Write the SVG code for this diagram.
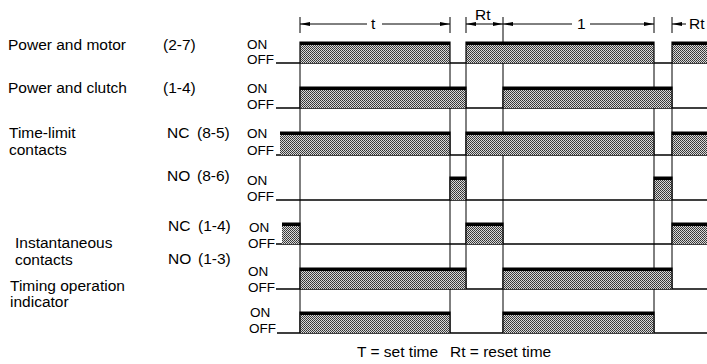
<svg xmlns="http://www.w3.org/2000/svg" width="707" height="364" viewBox="0 0 707 364">
<style>
.lbl{font-family:"Liberation Sans",Arial,Helvetica,sans-serif;font-size:15.5px;fill:#000}
.io{font-family:"Liberation Sans",Arial,Helvetica,sans-serif;font-size:13.5px;fill:#000}
.hatch{fill:url(#dots);stroke:none}
.sig{fill:none;stroke:#000;stroke-width:1.2}
.top{fill:none;stroke:#000;stroke-width:3}
.base{stroke:#000;stroke-width:1.5;fill:none}
.guide{stroke:#000;stroke-width:1;fill:none}
.dimA{stroke:#000;stroke-width:1;fill:none;marker-end:url(#ah)}
.dimB{stroke:#000;stroke-width:1;fill:none;marker-start:url(#ah);marker-end:url(#ah)}
.dimS{stroke:#000;stroke-width:1;fill:none;marker-start:url(#ah)}
</style>
<defs>
<pattern id="dots" width="2" height="2" patternUnits="userSpaceOnUse">
<rect width="2" height="2" fill="#d8d8d8"/>
<rect width="1" height="1" fill="#333"/>
<rect x="1" y="1" width="1" height="1" fill="#444"/>
</pattern>
<marker id="ah" viewBox="0 0 10 4" refX="10" refY="2" markerWidth="10" markerHeight="4" markerUnits="userSpaceOnUse" orient="auto-start-reverse">
<path d="M0,0 L10,2 L0,4 z" fill="#000"/>
</marker>
</defs>
<rect width="707" height="364" fill="#fff"/>

<g id="connectors">
<path class="guide" d="M300 63V333 M450 63V333 M466 63V289 M503 63V333 M654 63V333 M672 63V289"/>
<path class="guide" d="M300 17V33 M450 17V33 M466 17V33 M503 17V42 M654 17V33 M672 17V33"/>
<path class="base" d="M276 63H707 M276 108H707 M276 155H707 M276 200H707 M276 244H707 M276 289H707 M277 333H707"/>
</g>

<g id="dimensions">
<path class="dimS" d="M300 24H367"/>
<path class="dimA" d="M382 24H450"/>
<text class="lbl" x="371" y="29">t</text>
<path class="dimB" d="M466 24H503"/>
<text class="lbl" x="475" y="20">Rt</text>
<path class="dimS" d="M503 24H572"/>
<path class="dimA" d="M590 24H654"/>
<text class="lbl" x="577" y="29">1</text>
<path class="dimS" d="M672 24H686"/>
<text class="lbl" x="689" y="29">Rt</text>
</g>

<g id="row-power-motor">
<text class="lbl" x="8" y="50">Power and motor</text>
<text class="lbl" x="163" y="50">(2-7)</text>
<text class="io" x="247" y="48.5">ON</text>
<text class="io" x="247" y="64">OFF</text>
<rect class="hatch" x="300" y="42" width="150" height="21"/>
<rect class="hatch" x="466" y="42" width="188" height="21"/>
<rect class="hatch" x="672" y="42" width="35" height="21"/>
<path class="sig" d="M300 63V42H450V63 M466 63V42H654V63 M672 63V42H707"/>
<path class="top" d="M300 43.5H450 M466 43.5H654 M672 43.5H707"/>
</g>

<g id="row-power-clutch">
<text class="lbl" x="8" y="93">Power and clutch</text>
<text class="lbl" x="163" y="93">(1-4)</text>
<text class="io" x="247" y="93">ON</text>
<text class="io" x="247" y="109">OFF</text>
<rect class="hatch" x="300" y="87" width="166" height="21"/>
<rect class="hatch" x="503" y="87" width="169" height="21"/>
<path class="sig" d="M300 108V87H466V108 M503 108V87H672V108"/>
<path class="top" d="M300 88.5H466 M503 88.5H672"/>
</g>

<g id="row-timelimit-nc">
<text class="lbl" x="9" y="138">Time-limit</text>
<text class="lbl" x="9" y="155">contacts</text>
<text class="lbl" x="167" y="138">NC <tspan x="197">(8-5)</tspan></text>
<text class="io" x="247" y="138">ON</text>
<text class="io" x="247" y="155">OFF</text>
<rect class="hatch" x="280" y="132" width="170" height="23"/>
<rect class="hatch" x="466" y="132" width="188" height="23"/>
<rect class="hatch" x="672" y="132" width="35" height="23"/>
<path class="sig" d="M280 132H450V155 M466 155V132H654V155 M672 155V132H707"/>
<path class="top" d="M280 133.5H450 M466 133.5H654 M672 133.5H707"/>
</g>

<g id="row-timelimit-no">
<text class="lbl" x="167" y="181">NO <tspan x="197">(8-6)</tspan></text>
<text class="io" x="247" y="185">ON</text>
<text class="io" x="247" y="201">OFF</text>
<rect class="hatch" x="450" y="177" width="16" height="23"/>
<rect class="hatch" x="654" y="177" width="18" height="23"/>
<path class="sig" d="M450 200V177H466V200 M654 200V177H672V200"/>
<path class="top" d="M450 178.5H466 M654 178.5H672"/>
</g>

<g id="row-instant-nc">
<text class="lbl" x="168" y="231">NC <tspan x="198">(1-4)</tspan></text>
<text class="io" x="249" y="232">ON</text>
<text class="io" x="248" y="248">OFF</text>
<rect class="hatch" x="282" y="223" width="18" height="21"/>
<rect class="hatch" x="466" y="223" width="37" height="21"/>
<rect class="hatch" x="672" y="223" width="35" height="21"/>
<path class="sig" d="M282 223H300V244 M466 244V223H503V244 M672 244V223H707"/>
<path class="top" d="M282 224.5H300 M466 224.5H503 M672 224.5H707"/>
</g>

<g id="row-instant-no">
<text class="lbl" x="15" y="248">Instantaneous</text>
<text class="lbl" x="15" y="265">contacts</text>
<text class="lbl" x="168" y="264">NO <tspan x="198">(1-3)</tspan></text>
<text class="io" x="248" y="276">ON</text>
<text class="io" x="248" y="292">OFF</text>
<rect class="hatch" x="300" y="268" width="166" height="21"/>
<rect class="hatch" x="503" y="268" width="169" height="21"/>
<path class="sig" d="M300 289V268H466V289 M503 289V268H672V289"/>
<path class="top" d="M300 269.5H466 M503 269.5H672"/>
</g>

<g id="row-indicator">
<text class="lbl" x="10" y="291">Timing operation</text>
<text class="lbl" x="10" y="307">indicator</text>
<text class="io" x="250" y="317">ON</text>
<text class="io" x="249" y="333">OFF</text>
<rect class="hatch" x="300" y="312" width="150" height="21"/>
<rect class="hatch" x="503" y="312" width="151" height="21"/>
<path class="sig" d="M300 333V312H450V333 M503 333V312H654V333"/>
<path class="top" d="M300 313.5H450 M503 313.5H654"/>
</g>

<text class="lbl" x="357" y="357">T = set time <tspan x="450">Rt = reset time</tspan></text>
</svg>
